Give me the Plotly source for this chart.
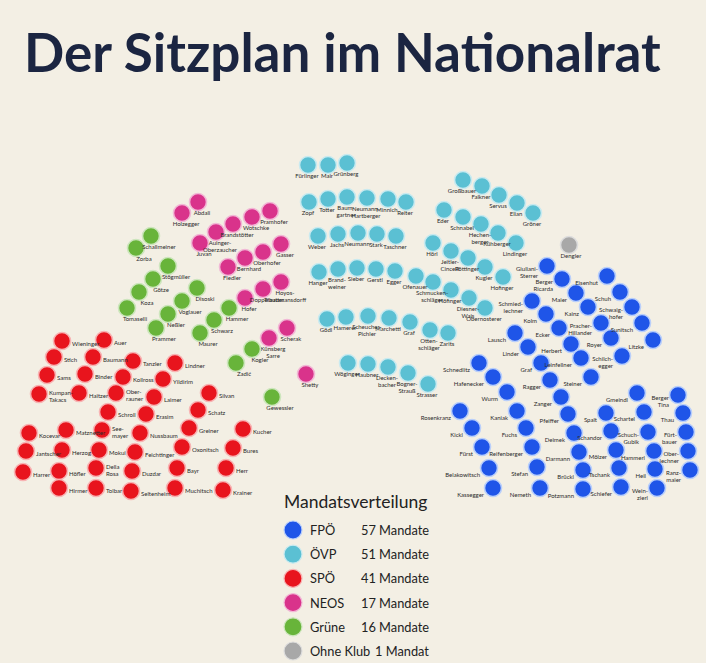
import plotly.graph_objects as go

# ---------------- data ----------------
title_text = "Der Sitzplan im Nationalrat"
legend_title = "Mandatsverteilung"
party_names = ["FPÖ", "ÖVP", "SPÖ", "NEOS", "Grüne", "Ohne Klub"]
party_mandates = [57, 51, 41, 17, 16, 1]
party_colors = ["#1f55e8", "#5bc0d3", "#e8141d", "#d9338b", "#68b43a", "#a8a8a8"]
party_halo = ["#b9cffb", "#c9eaf0", "#f8b4b4", "#f2b8d6", "#cde6bd", "#dddddd"]

fpo_names = ["Giuliani-<br>Sterrer", "Berger<br>Ricarda", "Maier", "Kainz", "Pracher-<br>Hillander", "Royer",
             "Schilch-<br>egger", "Eisenhut", "Schuh", "Schwaig-<br>hofer", "Sunitsch", "Litzke",
             "Schmied-<br>lechner", "Kolm", "Ecker", "Herbert", "Leinfellner", "Steiner",
             "Lausch", "Linder", "Graf", "Ragger", "Zanger", "Pfeiffer", "Deimek", "Darmann", "Brückl", "Potzmann",
             "Schnedlitz", "Hafenecker", "Wurm", "Kaniak", "Fuchs", "Reifenberger", "Stefan", "Nemeth",
             "Rosenkranz", "Kickl", "Fürst", "Belakowitsch", "Kassegger",
             "Spalt", "Schandor", "Mölzer", "Tschank", "Schiefer",
             "Gmeindl", "Schartel", "Schuch-<br>Gubik", "Hammerl", "Heil", "Wein-<br>zierl",
             "Berger<br>Tina", "Thau", "Fürt-<br>bauer", "Ober-<br>lechner", "Ranz-<br>maier"]
fpo_x = [547, 562, 576, 588, 601, 611, 622, 607, 620, 632, 642, 653,
         532, 546, 559, 571, 581, 591,
         515, 528, 541, 550, 561, 568, 574, 579, 583, 583,
         479, 493, 507, 517, 526, 532, 537, 540,
         460, 472, 482, 489, 493,
         606, 611, 616, 619, 621,
         637, 644, 648, 654, 655, 657,
         678, 683, 686, 688, 690]
fpo_y = [266, 279, 293, 307, 323, 338, 356, 276, 292, 307, 323, 340,
         301, 314, 328, 344, 358, 377,
         333, 347, 363, 380, 397, 414, 433, 452, 470, 489,
         363, 377, 392, 411, 428, 447, 467, 488,
         411, 428, 447, 468, 488,
         413, 431, 450, 468, 487,
         393, 412, 432, 451, 469, 488,
         395, 413, 432, 451, 470]

ovp_names = ["Fürlinger", "Mair", "Grünberg",
             "Zopf", "Totter", "Baum-<br>gartner", "Neumann-<br>Hartberger", "Minnich", "Reiter",
             "Weber", "Jachs", "Neumann", "Stark", "Taschner",
             "Hanger", "Brand-<br>weiner", "Sieber", "Gerstl", "Egger", "Ofenauer", "Schmucken-<br>schläger",
             "Höfinger", "Diesner-<br>Wais", "Obernosterer",
             "Gödl", "Hamerer", "Scheucher-<br>Pichler", "Marchetti", "Graf", "Otten-<br>schläger", "Zarits",
             "Wöginger", "Haubner", "Decken-<br>bacher", "Bogner-<br>Strauß", "Strasser",
             "Großbauer", "Falkner", "Servus", "Elian", "Gröner",
             "Eder", "Schnabel", "Hechen-<br>berger", "Kühberger", "Lindinger",
             "Hörl", "Jeitler-<br>Cincelli", "Pöttinger", "Kugler", "Hofinger"]
ovp_x = [308, 328, 347,
         309, 328, 347, 367, 388, 406,
         318, 338, 358, 377, 396,
         319, 338, 357, 376, 395, 416, 433, 451, 469, 485,
         327, 346, 368, 389, 410, 430, 448,
         348, 368, 388, 408, 428,
         463, 482, 499, 517, 533,
         444, 463, 481, 498, 516,
         433, 451, 468, 485, 503]
ovp_y = [165, 165, 163,
         202, 199, 197, 198, 199, 202,
         236, 234, 233, 234, 236,
         272, 269, 268, 269, 271, 276, 282, 290, 298, 308,
         319, 317, 316, 318, 322, 330, 333,
         363, 364, 367, 373, 384,
         180, 186, 195, 203, 213,
         210, 217, 224, 233, 243,
         243, 251, 258, 267, 277]

spo_names = ["Wieninger", "Auer", "Stich", "Baumann", "Tanzler", "Lindner", "Sams", "Binder", "Kollross",
             "Yildirim", "Kumpan-<br>Takacs", "Haitzer", "Ober-<br>rauner", "Laimer", "Silvan", "Schroll",
             "Erasim", "Schatz", "Kocevar", "Matznetter", "See-<br>mayer", "Nussbaum", "Greiner", "Kucher",
             "Jantscher", "Herzog", "Mokui", "Feichtinger", "Oxonitsch", "Bures", "Harrer", "Höfler",
             "Della<br>Rosa", "Duzdar", "Bayr", "Herr", "Hirmer", "Tolbar", "Seltenheim", "Muchitsch", "Krainer"]
spo_x = [62, 104, 54, 93, 133, 175, 47, 85, 123,
         163, 39, 79, 116, 154, 209, 108,
         146, 198, 29, 66, 102, 140, 189, 243,
         26, 62, 99, 135, 182, 233, 23, 59,
         96, 132, 177, 226, 59, 96, 131, 175, 223]
spo_y = [341, 340, 357, 357, 361, 363, 375, 374, 377,
         379, 394, 393, 393, 397, 393, 412,
         414, 410, 433, 430, 430, 433, 428, 429,
         451, 450, 450, 452, 447, 448, 472, 471,
         468, 471, 468, 468, 488, 488, 491, 488, 490]

neos_names = ["Abdali", "Holzegger", "Pramhofer", "Wotschke", "Brandstötter", "Auinger-<br>Oberzaucher",
              "Juvan", "Gasser", "Oberhofer", "Bernhard", "Fiedler", "Hoyos-<br>Trauttmansdorff",
              "Doppelbauer", "Hofer", "Scherak", "Künsberg<br>Sarre", "Shetty"]
neos_x = [198, 182, 270, 252, 233, 216, 200, 281, 263, 245, 228, 281, 263, 245, 287, 269, 306]
neos_y = [202, 213, 211, 217, 224, 232, 243, 244, 252, 258, 267, 282, 289, 298, 328, 338, 374]

grune_names = ["Schallmeiner", "Zorba", "Stögmüller", "Götze", "Koza", "Tomaselli", "Disoski", "Voglauer",
               "Neßler", "Prammer", "Hammer", "Schwarz", "Maurer", "Kogler", "Zadić", "Gewessler"]
grune_x = [151, 136, 168, 153, 139, 127, 197, 182, 168, 156, 229, 214, 200, 252, 236, 272]
grune_y = [236, 248, 266, 279, 292, 308, 288, 301, 314, 328, 308, 320, 333, 349, 363, 397]

ohne_names = ["Dengler"]
ohne_x = [569]
ohne_y = [245]

# ---------------- styling ----------------
BG = "#f3efe4"
W, H = 706, 663
seat_groups = [
    (fpo_names, fpo_x, fpo_y, 0, "left"),
    (ovp_names, ovp_x, ovp_y, 1, "below"),
    (spo_names, spo_x, spo_y, 2, "right"),
    (neos_names, neos_x, neos_y, 3, "below"),
    (grune_names, grune_x, grune_y, 4, "below"),
    (ohne_names, ohne_x, ohne_y, 5, "below"),
]
below_dx = {1: -1, 3: 4, 4: 8, 5: 2}

fig = go.Figure()
label_font = dict(family="Lato, Noto Sans, sans-serif", size=6, color="#2b2b2b")

for names, xs, ys, pi, side in seat_groups:
    fig.add_trace(go.Scatter(
        x=xs, y=ys, mode="markers", hoverinfo="text", text=names,
        marker=dict(size=17, color=party_colors[pi],
                    line=dict(width=1.6, color=party_halo[pi])),
        showlegend=False))
    if side == "left":
        lx = [x - 9 for x in xs]; ly = [y + 7 for y in ys]; pos = "middle left"
    elif side == "right":
        lx = [x + 10 for x in xs]; ly = [y + 3 for y in ys]; pos = "middle right"
    else:
        d = below_dx[pi]
        lx = [x + d for x in xs]; ly = [y + 8 for y in ys]; pos = "bottom center"
    fig.add_trace(go.Scatter(
        x=lx, y=ly, mode="text", text=names, textposition=pos,
        textfont=label_font, hoverinfo="skip", showlegend=False))

# legend block
leg_x = 293
leg_y0 = 530
leg_step = 24.2
leg_ys = [leg_y0 + i * leg_step for i in range(len(party_names))]
fig.add_trace(go.Scatter(
    x=[leg_x] * len(party_names), y=leg_ys, mode="markers",
    marker=dict(size=18, color=party_colors, line=dict(width=1.2, color=party_halo)),
    hoverinfo="skip", showlegend=False))

anns = [dict(x=342, y=51, xref="x", yref="y", text=title_text, showarrow=False,
             xanchor="center", yanchor="middle",
             font=dict(family="Lato, sans-serif", size=53, color="#1b2541", weight=700)),
        dict(x=282, y=501, xref="x", yref="y", text=legend_title, showarrow=False,
             xanchor="left", yanchor="middle",
             font=dict(family="Lato, sans-serif", size=17.5, color="#222222"))]
for i, (pn, m) in enumerate(zip(party_names, party_mandates)):
    anns.append(dict(x=308, y=leg_ys[i], xref="x", yref="y", text=pn, showarrow=False,
                     xanchor="left", yanchor="middle",
                     font=dict(family="Lato, sans-serif", size=12.8, color="#222222")))
    anns.append(dict(x=431, y=leg_ys[i], xref="x", yref="y",
                     text=f"{m} Mandate" if m != 1 else f"{m} Mandat", showarrow=False,
                     xanchor="right", yanchor="middle",
                     font=dict(family="Lato, sans-serif", size=12.8, color="#222222")))

fig.update_layout(
    width=W, height=H, margin=dict(l=0, r=0, t=0, b=0),
    paper_bgcolor=BG, plot_bgcolor=BG,
    xaxis=dict(range=[0, W], visible=False, fixedrange=True),
    yaxis=dict(range=[H, 0], visible=False, fixedrange=True),
    annotations=anns, showlegend=False)

fig.write_html("out.html", config={"displayModeBar": False},
               post_script="document.body.style.margin='0';document.body.style.overflow='hidden';")
